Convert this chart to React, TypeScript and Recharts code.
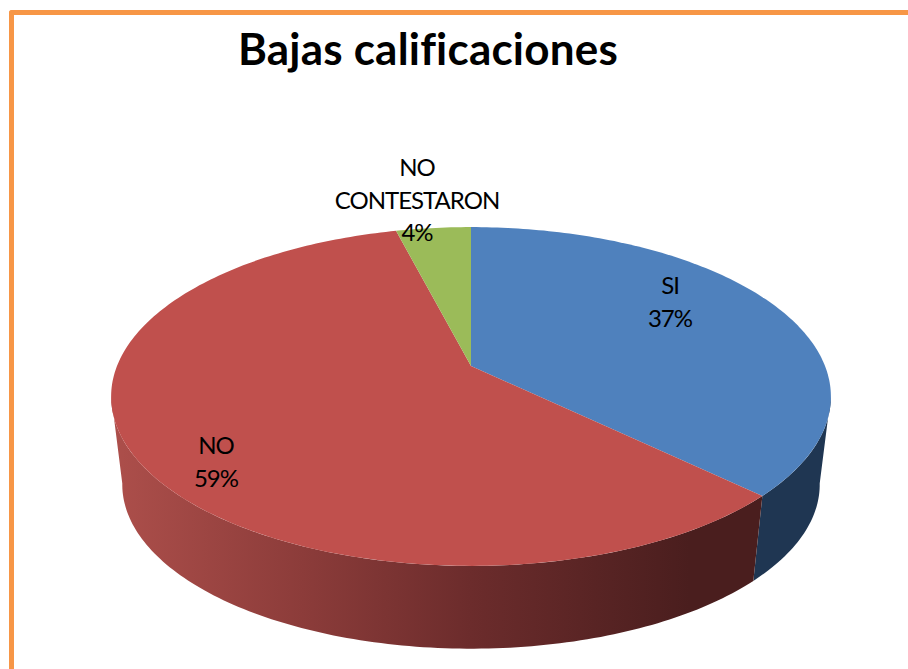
import React from "react";
import { PieChart, Pie } from "recharts";

const categories = ["SI", "NO", "NO CONTESTARON"];
const values = [37.2, 58.8, 4];
const topColors = ["#4F81BD", "#C0504D", "#9BBB59"];
const sideColors = ["#1F3652", "url(#redSide)", "#5F7530"];

// label centres, Excel puts these by hand so they don't follow the slice angle
const labelSpots = [
  { x: 670, y: 301 },
  { x: 216, y: 461 },
  { x: 417, y: 199 },
];
const labelLines = [["SI"], ["NO"], ["NO", "CONTESTARON"]];

const data = categories.map((name, i) => ({ name, value: values[i] }));

// fake perspective for the tilted disc
const TILT = 0.18;
const SQUASH = 0.463;
const DROP = 89;
const BOTTOM_SCALE = 0.969;
// rim angles where the disc is widest, the wall runs straight down between them
const RIM_RIGHT = -10;
const RIM_LEFT = -170;

const project = (cx: number, cy: number, r: number, deg: number, bottom = false) => {
  const t = ((90 - deg) * Math.PI) / 180;
  const w = 1 + TILT * Math.cos(t);
  const s = bottom ? BOTTOM_SCALE : 1;
  return {
    x: cx + (s * r * Math.sin(t)) / w,
    y: cy + (bottom ? DROP : 0) - (s * r * SQUASH * Math.cos(t)) / w,
  };
};

const arcPoints = (cx: number, cy: number, r: number, from: number, to: number, bottom = false) => {
  const steps = Math.max(2, Math.ceil(Math.abs(to - from)));
  const pts = [];
  for (let i = 0; i <= steps; i++) {
    pts.push(project(cx, cy, r, from + ((to - from) * i) / steps, bottom));
  }
  return pts;
};

const toPath = (pts: { x: number; y: number }[]) =>
  pts.map((p, i) => `${i ? "L" : "M"}${p.x.toFixed(2)},${p.y.toFixed(2)}`).join(" ") + " Z";

const DiscSlice = (props: any) => {
  const { cx, cy, outerRadius, startAngle, endAngle, index } = props;
  const top = [{ x: cx, y: cy }, ...arcPoints(cx, cy, outerRadius, startAngle, endAngle)];

  const from = Math.min(startAngle, RIM_RIGHT);
  const to = Math.max(endAngle, RIM_LEFT);
  const side =
    from > to
      ? [
          ...arcPoints(cx, cy, outerRadius, from, to),
          ...arcPoints(cx, cy, outerRadius, to, from, true),
        ]
      : null;

  return (
    <g>
      <defs>
        <linearGradient id="redSide" gradientUnits="userSpaceOnUse" x1="111" y1="0" x2="690" y2="0">
          <stop offset="0" stopColor="#AD4F4B" />
          <stop offset="0.33" stopColor="#8C3C3A" />
          <stop offset="0.62" stopColor="#6C2C2C" />
          <stop offset="1" stopColor="#4A1E1E" />
        </linearGradient>
      </defs>
      {side && <path d={toPath(side)} fill={sideColors[index]} />}
      <path d={toPath(top)} fill={topColors[index]} />
    </g>
  );
};

const SliceLabel = (props: any) => {
  const { index, percent } = props;
  const spot = labelSpots[index];
  const lines = [...labelLines[index], `${Math.round(percent * 100)}%`];
  const lineHeight = 32.5;
  const y0 = spot.y - ((lines.length - 1) * lineHeight) / 2;
  return (
    <text textAnchor="middle" fontFamily="Lato" fontSize={24} letterSpacing={-1} fill="#000">
      {lines.map((line, i) => (
        <tspan key={i} x={spot.x} y={y0 + i * lineHeight} dominantBaseline="central">
          {line}
        </tspan>
      ))}
    </text>
  );
};

export default function App() {
  return (
    <div style={{ position: "absolute", left: 0, top: 0, width: 908, height: 669, overflow: "hidden", background: "#fff" }}>
      <div
        style={{
          position: "absolute",
          left: 9,
          top: 10,
          width: 899,
          height: 659,
          boxSizing: "border-box",
          borderTop: "5px solid #F79646",
          borderLeft: "5px solid #F79646",
          borderTopLeftRadius: 3,
        }}
      />
      <div
        style={{
          position: "absolute",
          left: 238,
          top: 21,
          fontFamily: "Lato",
          fontWeight: 700,
          fontSize: 44,
          letterSpacing: 0.2,
          lineHeight: "54px",
          color: "#000",
          whiteSpace: "nowrap",
        }}
      >
        Bajas calificaciones
      </div>
      <PieChart width={908} height={669} margin={{ top: 0, right: 0, bottom: 0, left: 0 }} style={{ position: "absolute", left: 0, top: 0 }}>
        <Pie
          data={data}
          dataKey="value"
          nameKey="name"
          cx={471}
          cy={366}
          innerRadius={0}
          outerRadius={354}
          startAngle={90}
          endAngle={-270}
          stroke="none"
          isAnimationActive={false}
          shape={DiscSlice}
          label={SliceLabel}
          labelLine={false}
        />
      </PieChart>
    </div>
  );
}
